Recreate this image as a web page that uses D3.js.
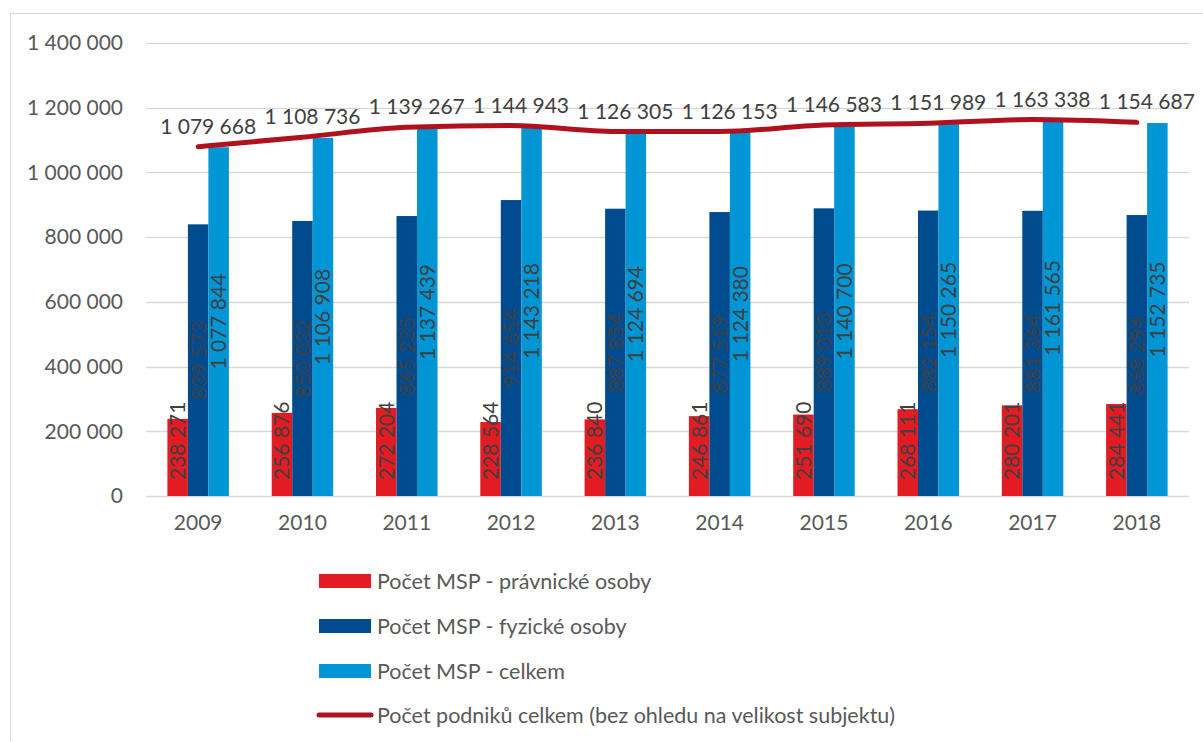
<!DOCTYPE html>
<html>
<head>
<meta charset="utf-8">
<script src="https://cdn.jsdelivr.net/npm/d3@7"></script>
<style>
  html, body { margin: 0; padding: 0; background: #fff; }
  svg { display: block; font-family: Lato, "Open Sans", sans-serif; }
</style>
</head>
<body>
<svg id="chart" width="1203" height="742"></svg>
<script>
const years = ["2009","2010","2011","2012","2013","2014","2015","2016","2017","2018"];
const pravnicke = [238271, 256876, 272204, 228564, 236840, 246861, 251690, 268111, 280201, 284441];
const fyzicke = [839573, 850032, 865235, 914654, 887854, 877519, 889010, 882154, 881364, 868294];
const celkemMSP = [1077844, 1106908, 1137439, 1143218, 1124694, 1124380, 1140700, 1150265, 1161565, 1152735];
const podnikyCelkem = [1079668, 1108736, 1139267, 1144943, 1126305, 1126153, 1146583, 1151989, 1163338, 1154687];
const yTicks = [0, 200000, 400000, 600000, 800000, 1000000, 1200000, 1400000];
const seriesNames = ["Počet MSP - právnické osoby", "Počet MSP - fyzické osoby", "Počet MSP - celkem"];
const lineName = "Počet podniků celkem (bez ohledu na velikost subjektu)";

const colors = ["#E31B23", "#004B8D", "#0096D6"];
const lineColor = "#B0111E";
const labelColor = "#404040";
const axisColor = "#595959";

const fmt = v => d3.format(",")(v).replace(/,/g, " ");

const svg = d3.select("#chart");

// chart border
svg.append("rect").attr("x", 10.5).attr("y", 13.5).attr("width", 1200).attr("height", 740)
  .attr("fill", "none").attr("stroke", "#D9D9D9").attr("stroke-width", 1);

const x = d3.scaleBand().domain(years).range([146, 1189]).padding(0);
const y = d3.scaleLinear().domain([0, 1400000]).range([496, 43]);

// gridlines
svg.append("g").selectAll("line").data(yTicks).join("line")
  .attr("x1", 146).attr("x2", 1189)
  .attr("y1", d => Math.round(y(d)) + 0.5).attr("y2", d => Math.round(y(d)) + 0.5)
  .attr("stroke", "#D9D9D9").attr("stroke-width", 1.3);

// y axis labels
const yAxis = d3.axisLeft(y).tickValues(yTicks).tickFormat(fmt).tickSize(0).tickPadding(0);
const gy = svg.append("g").attr("transform", "translate(123,0)").call(yAxis);
gy.select(".domain").remove();
gy.selectAll("text").attr("fill", axisColor).style("font-size", "21px").style("font-family", "Lato, sans-serif");

// x axis labels
const xAxis = d3.axisBottom(x).tickSize(0).tickPadding(0);
const gx = svg.append("g").attr("transform", "translate(0,515)").call(xAxis);
gx.select(".domain").remove();
gx.selectAll("text").attr("fill", axisColor).style("font-size", "21px").style("font-family", "Lato, sans-serif");

// bars
const seriesData = [pravnicke, fyzicke, celkemMSP];
const groupW = 61.5;
const x1 = d3.scaleBand().domain([0,1,2]).range([0, groupW]).padding(0);

seriesData.forEach((vals, si) => {
  const g = svg.append("g");
  g.selectAll("rect").data(vals).join("rect")
    .attr("x", (d, i) => x(years[i]) + (x.bandwidth() - groupW) / 2 + x1(si))
    .attr("y", d => y(d))
    .attr("width", x1.bandwidth())
    .attr("height", d => y(0) - y(d))
    .attr("fill", colors[si]);
});

// bar labels (rotated)
seriesData.forEach((vals, si) => {
  const g = svg.append("g");
  g.selectAll("text").data(vals).join("text")
    .attr("transform", (d, i) => {
      const cx = x(years[i]) + (x.bandwidth() - groupW) / 2 + x1(si) + x1.bandwidth() / 2;
      const cy = si === 0 ? y(0) - 16 : (y(0) + y(d)) / 2;
      return `translate(${cx},${cy}) rotate(-90)`;
    })
    .attr("text-anchor", si === 0 ? "start" : "middle")
    .attr("dy", "0.35em")
    .attr("fill", labelColor)
    .style("font-size", "21px")
    .text(d => fmt(d));
});

// line
const line = d3.line()
  .x((d, i) => x(years[i]) + x.bandwidth() / 2)
  .y(d => y(d))
  .curve(d3.curveMonotoneX);
svg.append("path").datum(podnikyCelkem)
  .attr("d", line).attr("fill", "none").attr("stroke", lineColor)
  .attr("stroke-width", 5).attr("stroke-linecap", "round");

// line labels
svg.append("g").selectAll("text").data(podnikyCelkem).join("text")
  .attr("x", (d, i) => x(years[i]) + x.bandwidth() / 2 + 10)
  .attr("y", d => y(d) - 13)
  .attr("text-anchor", "middle")
  .attr("fill", labelColor)
  .style("font-size", "21px")
  .text(d => fmt(d));

// legend
const legend = svg.append("g");
const rows = [581, 626, 671, 715];
seriesNames.forEach((name, i) => {
  legend.append("rect").attr("x", 319).attr("y", rows[i] - 7).attr("width", 52).attr("height", 14).attr("fill", colors[i]);
  legend.append("text").attr("x", 377).attr("y", rows[i]).attr("dy", "0.35em")
    .attr("fill", axisColor).style("font-size", "21.5px").text(name);
});
legend.append("line").attr("x1", 319).attr("x2", 371).attr("y1", rows[3]).attr("y2", rows[3])
  .attr("stroke", lineColor).attr("stroke-width", 5).attr("stroke-linecap", "round");
legend.append("text").attr("x", 377).attr("y", rows[3]).attr("dy", "0.35em")
  .attr("fill", axisColor).style("font-size", "21.5px").text(lineName);
</script>
</body>
</html>
